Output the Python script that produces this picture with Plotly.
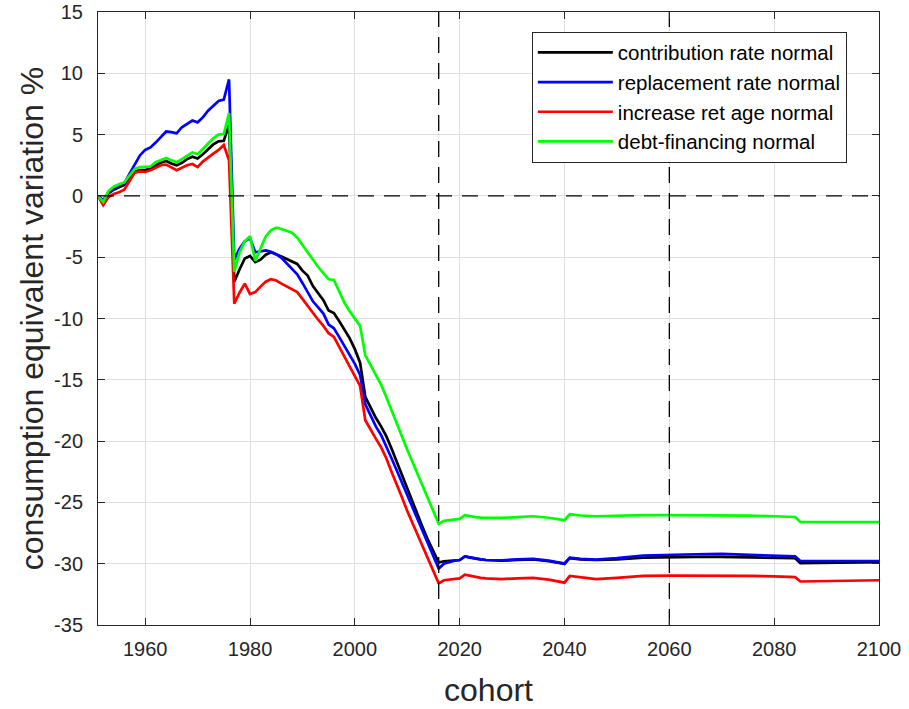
import plotly.graph_objects as go

years = list(range(1951, 2026)) + [2028, 2031, 2034, 2037, 2040, 2041, 2043, 2046, 2050,
                                    2055, 2060, 2065, 2070, 2075, 2080, 2084, 2085, 2090, 2095, 2100]

contribution = [
    0.0, -0.4, 0.2, 0.5, 0.7, 0.9, 1.5, 2.0, 2.1, 2.1, 2.2, 2.5, 2.7, 2.85, 2.65, 2.5, 2.7, 3.0, 3.2, 3.05,
    3.4, 3.8, 4.2, 4.45, 4.5, 5.8,
    -7.0, -6.0, -5.1, -4.9, -5.4, -5.2, -4.8, -4.6, -4.75, -4.95, -5.15, -5.35, -5.55, -6.1, -6.5, -7.35,
    -7.9, -8.5, -9.35, -9.55, -10.2, -10.9, -11.6, -12.5, -13.6, -16.4, -17.3, -18.1, -18.8, -19.6, -20.6,
    -21.7, -22.8, -23.9, -25.0, -26.1, -27.1, -28.1, -29.0, -29.9,
    -29.8, -29.75, -29.72, -29.7, -29.4, -29.5, -29.6, -29.65, -29.7,
    -29.75, -29.7, -29.65, -29.8, -30.0, -29.55, -29.65, -29.7, -29.65, -29.5, -29.45, -29.45, -29.45,
    -29.48, -29.5, -29.55, -29.95, -29.92, -29.9, -29.88]

replacement = [
    0.0, -0.35, 0.3, 0.55, 0.9, 1.0, 1.8, 2.6, 3.3, 3.75, 3.95, 4.35, 4.8, 5.25, 5.2, 5.1, 5.6, 5.85, 6.15, 6.0,
    6.4, 6.95, 7.35, 7.75, 7.85, 9.5,
    -5.2, -4.3, -3.7, -3.45, -4.6, -4.5, -4.45, -4.55, -4.75, -5.05, -5.5, -5.9, -6.4, -7.1, -7.8, -8.6,
    -9.1, -9.6, -10.5, -10.8, -11.5, -12.2, -12.9, -13.7, -14.6, -17.0, -17.9, -18.8, -19.5, -20.4, -21.4,
    -22.4, -23.4, -24.4, -25.5, -26.5, -27.5, -28.5, -29.5, -30.4,
    -30.0, -29.85, -29.75, -29.7, -29.4, -29.5, -29.6, -29.65, -29.7,
    -29.72, -29.65, -29.6, -29.75, -30.0, -29.5, -29.6, -29.67, -29.55, -29.33, -29.25, -29.23, -29.2,
    -29.25, -29.3, -29.4, -29.78, -29.78, -29.78, -29.78]

ret_age = [
    0.0, -0.75, -0.1, 0.15, 0.3, 0.5, 1.2, 1.9, 2.0, 1.95, 2.1, 2.3, 2.5, 2.55, 2.3, 2.1, 2.3, 2.5, 2.6, 2.35,
    2.8, 3.15, 3.45, 3.75, 4.15, 2.9,
    -8.8, -7.9, -7.15, -8.0, -7.85, -7.4, -7.0, -6.8, -6.9, -7.15, -7.4, -7.6, -7.85, -8.4, -9.0, -9.6,
    -10.1, -10.6, -11.2, -11.5, -12.3, -13.0, -13.8, -14.6, -15.5, -18.3, -19.1, -19.8, -20.5, -21.4, -22.5,
    -23.5, -24.6, -25.7, -26.7, -27.7, -28.6, -29.6, -30.6, -31.6,
    -31.35, -31.3, -31.25, -31.2, -30.9, -31.0, -31.1, -31.15, -31.2,
    -31.25, -31.2, -31.15, -31.3, -31.55, -31.0, -31.1, -31.25, -31.15, -31.0, -30.97, -30.97, -30.95,
    -31.0, -31.03, -31.1, -31.45, -31.4, -31.38, -31.35]

debt = [
    0.0, -0.5, 0.4, 0.75, 0.95, 1.1, 1.65, 2.2, 2.35, 2.35, 2.4, 2.75, 2.9, 3.1, 2.9, 2.75, 3.0, 3.3, 3.55, 3.4,
    3.85, 4.3, 4.7, 5.0, 5.05, 6.75,
    -6.2, -4.6, -3.7, -3.3, -5.3, -4.3, -3.3, -2.8, -2.6, -2.7, -2.85, -3.0, -3.4, -4.0, -4.7, -5.3,
    -5.8, -6.3, -6.8, -6.85, -7.8, -8.7, -9.4, -10.0, -10.6, -13.0, -13.8, -14.6, -15.4, -16.4, -17.5,
    -18.5, -19.6, -20.7, -21.7, -22.7, -23.7, -24.7, -25.7, -26.75,
    -26.5, -26.45, -26.4, -26.35, -26.05, -26.15, -26.2, -26.24, -26.25,
    -26.27, -26.2, -26.13, -26.25, -26.45, -25.97, -26.07, -26.13, -26.08, -26.03, -26.03, -26.03, -26.03,
    -26.08, -26.13, -26.19, -26.6, -26.6, -26.6, -26.6]

series_names = ["contribution rate normal", "replacement rate normal",
                "increase ret age normal", "debt-financing normal"]
series_values = [contribution, replacement, ret_age, debt]
series_colors = ["#000000", "#0000FF", "#FF0000", "#00FF00"]

x_ticks = [1960, 1980, 2000, 2020, 2040, 2060, 2080, 2100]
x_tick_labels = ["1960", "1980", "2000", "2020", "2040", "2060", "2080", "2100"]
y_ticks = [15, 10, 5, 0, -5, -10, -15, -20, -25, -30, -35]
y_tick_labels = ["15", "10", "5", "0", "-5", "-10", "-15", "-20", "-25", "-30", "-35"]
x_range = [1951, 2100]
y_range = [-35, 15]
vlines = [2016, 2060]

FONT = "Liberation Sans, Arial, Helvetica, sans-serif"

fig = go.Figure()
for name, vals, col in zip(series_names, series_values, series_colors):
    fig.add_trace(go.Scatter(x=years, y=vals, mode="lines", name=name,
                             line=dict(color=col, width=2.7)))

dash = "16px,10px"
fig.add_trace(go.Scatter(x=x_range, y=[0, 0], mode="lines", showlegend=False,
                         line=dict(color="black", width=1.3, dash=dash), hoverinfo="skip"))
for v in vlines:
    fig.add_trace(go.Scatter(x=[v, v], y=y_range, mode="lines", showlegend=False,
                             line=dict(color="black", width=1.3, dash=dash), hoverinfo="skip"))

axis_common = dict(showline=True, linecolor="#262626", linewidth=1, mirror="ticks",
                   ticks="inside", ticklen=7, tickcolor="#262626",
                   showgrid=True, gridcolor="#dfdfdf", gridwidth=1, zeroline=False,
                   tickfont=dict(family=FONT, size=20, color="#262626"))

fig.update_xaxes(range=x_range, tickvals=x_ticks, ticktext=x_tick_labels, ticklabelstandoff=6,
                 title=dict(text="cohort", standoff=19,
                            font=dict(family=FONT, size=32, color="#262626")),
                 **axis_common)
fig.update_yaxes(range=y_range, tickvals=y_ticks, ticktext=y_tick_labels, ticklabelstandoff=10,
                 title=dict(text="consumption equivalent variation %", standoff=0,
                            font=dict(family=FONT, size=32, color="#262626")),
                 **axis_common)

fig.update_layout(
    width=909, height=709,
    margin=dict(l=98, r=30, t=12, b=84, autoexpand=False),
    plot_bgcolor="white", paper_bgcolor="white",
    showlegend=True,
    legend=dict(x=0.5555, y=0.968, xanchor="left", yanchor="top",
                bgcolor="white", bordercolor="#262626", borderwidth=1,
                itemwidth=75,
                font=dict(family=FONT, size=20.5, color="black")),
)

fig.write_html("out.html", config={"displayModeBar": False},
               post_script="document.body.style.margin='0px';")
